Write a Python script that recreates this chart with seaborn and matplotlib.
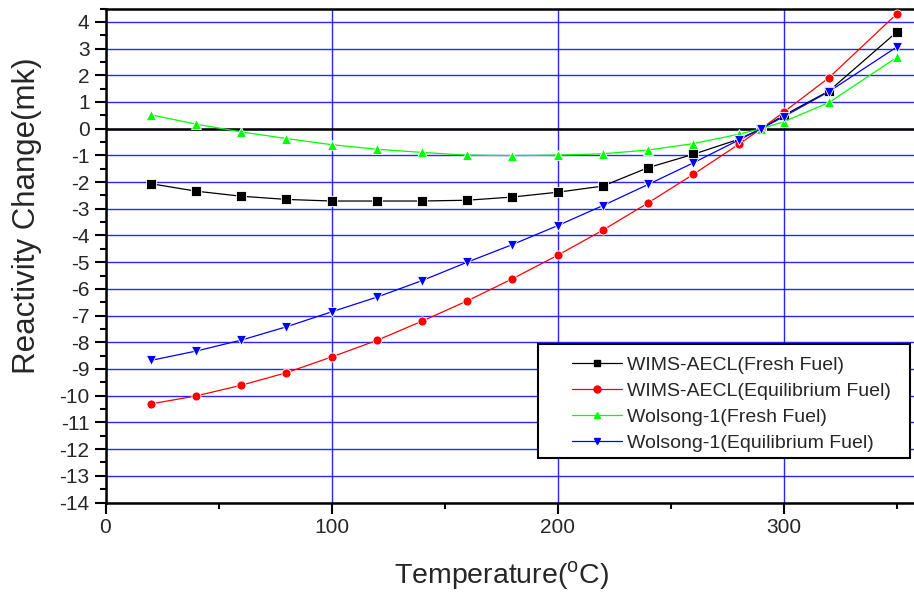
import numpy as np
import pandas as pd
import matplotlib
matplotlib.use("Agg")
import matplotlib.pyplot as plt
from matplotlib.ticker import MultipleLocator
from matplotlib.lines import Line2D
from matplotlib.patches import Rectangle
import seaborn as sns

# Temperature points (deg C)
temperature = [20, 40, 60, 80, 100, 120, 140, 160, 180, 200, 220, 240, 260, 280, 290, 300, 320, 350]

# Reactivity change (mk) for each model / fuel state
wims_fresh = [-2.06, -2.34, -2.53, -2.65, -2.71, -2.71, -2.71, -2.68, -2.56, -2.38,
              -2.15, -1.46, -0.96, -0.40, 0.0, 0.50, 1.41, 3.62]
wims_equil = [-10.31, -10.01, -9.61, -9.14, -8.55, -7.93, -7.21, -6.45, -5.62, -4.74,
              -3.80, -2.78, -1.71, -0.59, 0.0, 0.62, 1.91, 4.30]
wolsong_fresh = [0.52, 0.17, -0.12, -0.37, -0.60, -0.77, -0.89, -0.99, -1.01, -0.99,
                 -0.94, -0.80, -0.56, -0.21, 0.0, 0.26, 0.98, 2.67]
wolsong_equil = [-8.68, -8.33, -7.92, -7.42, -6.86, -6.31, -5.69, -5.00, -4.34, -3.63,
                 -2.88, -2.09, -1.28, -0.43, 0.0, 0.45, 1.39, 3.06]

series_names = ["WIMS-AECL(Fresh Fuel)", "WIMS-AECL(Equilibrium Fuel)",
                "Wolsong-1(Fresh Fuel)", "Wolsong-1(Equilibrium Fuel)"]
series_values = [wims_fresh, wims_equil, wolsong_fresh, wolsong_equil]
colors = ["#000000", "#ff0000", "#00ff00", "#0000ff"]
markers = ["s", "o", "^", "v"]

df = pd.concat(
    [pd.DataFrame({"Temperature": temperature, "Reactivity": vals, "Series": name})
     for name, vals in zip(series_names, series_values)],
    ignore_index=True,
)

sns.set_style("white")
plt.rcParams["font.family"] = ["Liberation Sans", "DejaVu Sans"]
plt.rcParams["mathtext.fontset"] = "custom"
plt.rcParams["mathtext.rm"] = "Liberation Sans"
plt.rcParams["axes.unicode_minus"] = False

W, H = 914, 597
fig = plt.figure(figsize=(W / 100, H / 100), dpi=100)
ax = fig.add_axes([105.5 / W, 1 - 502.5 / H, 1 - 105.5 / W, (502.5 - 8.5) / H])

palette = dict(zip(series_names, colors))
marker_map = dict(zip(series_names, markers))

sns.lineplot(
    data=df, x="Temperature", y="Reactivity", hue="Series", style="Series",
    hue_order=series_names, style_order=series_names,
    palette=palette, markers=marker_map, dashes=False,
    linewidth=0.9, markersize=6.5, markeredgewidth=0.6, ax=ax, legend=False, zorder=4,
)

ax.set_xlim(0, 357.6)
ax.set_ylim(-14, 4.5)

ax.xaxis.set_major_locator(MultipleLocator(100))
ax.xaxis.set_minor_locator(MultipleLocator(50))
ax.yaxis.set_major_locator(MultipleLocator(1))
ax.yaxis.set_minor_locator(MultipleLocator(0.5))

ax.grid(True, which="major", color="#0000ff", linewidth=1.0, alpha=0.85)
ax.set_axisbelow(True)
ax.axhline(0, color="black", linewidth=1.8, zorder=3)

for side in ["left", "bottom", "top"]:
    ax.spines[side].set_visible(True)
    ax.spines[side].set_color("black")
    ax.spines[side].set_linewidth(1.8)
ax.spines["right"].set_visible(False)

ax.tick_params(axis="both", which="major", direction="out", length=8, width=1.5,
               labelsize=15, color="black", bottom=True, left=True, top=False, right=False)
ax.tick_params(axis="both", which="minor", direction="out", length=4.5, width=1.5,
               color="black", bottom=True, left=True, top=False, right=False)

ax.set_xlabel("Temperature($^{\\mathrm{o}}$C)", fontsize=20.5)
ax.set_ylabel("Reactivity Change(mk)", fontsize=22.5)
ax.xaxis.set_label_coords((502 - 105.5) / (W - 105.5), -0.115)
ax.yaxis.set_label_coords((42 - 105.5) / (W - 105.5), (502.5 - 216) / 494)

# Legend box drawn as a plain rectangle, entries placed inside it
fig.patches.append(Rectangle(
    (538 / W, 1 - 458 / H), (910 - 538) / W, (458 - 344) / H,
    transform=fig.transFigure, facecolor="white", edgecolor="black",
    linewidth=1.5, zorder=2,
))

handles = [
    Line2D([0], [0], color=c, marker=m, linewidth=0.9, markersize=5)
    for c, m in zip(colors, markers)
]
leg = fig.legend(
    handles, series_names, loc="upper left",
    bbox_to_anchor=(572 / W, 1 - 356 / H), fontsize=14,
    frameon=False, handlelength=2.55, handletextpad=0.3,
    labelspacing=0.43, borderpad=0, borderaxespad=0,
)
leg.set_zorder(3)

fig.savefig("out.png", dpi=100)
